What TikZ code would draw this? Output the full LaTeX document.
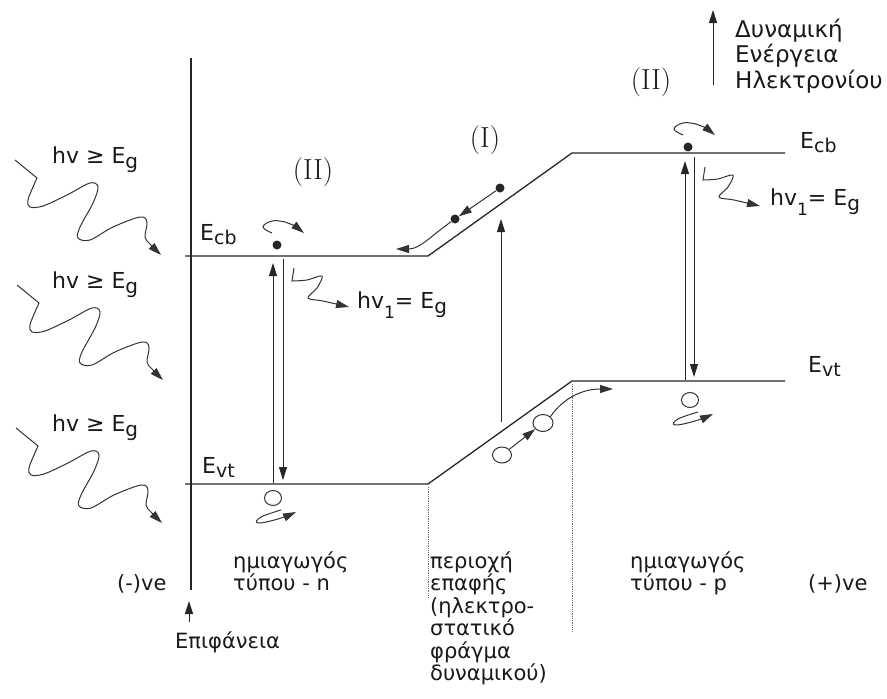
\documentclass[tikz,border=0pt]{standalone}
\usepackage{fontspec}
\newfontfamily\gr{DejaVu Sans}
\usetikzlibrary{arrows.meta,shapes.geometric}
\newcommand\photonpath{%
  \draw[pho] (0,0) -- plot[smooth,tension=0.55] coordinates {(22,18) (18,27) (13,40) (15,47) (28,46) (52,35) (75,23) (83,27) (78,43) (65,67) (63,78) (75,80) (98,67) (125,57) (132,62) (130,77) (135,84) (146,95)};}
\newcommand\emitpath{%
  \draw[pho] (0,0) -- plot[smooth,tension=0.55] coordinates {(-2,13) (13,12) (28,8) (23,20) (14,30) (29,33) (55,39)};}
\newcommand\eloop{%
  \draw[loopa] plot[smooth,tension=0.7] coordinates {(-5,-12) (-14,-18) (-5,-24) (8,-23) (16,-20) (27,-12)};}
\newcommand\hloop{%
  \draw[loopa] plot[smooth,tension=0.7] coordinates {(8,12) (-12,19) (-15,25) (5,21) (23,14)};}
\newcommand\lsub[3]{\raisebox{-#1pt}{\fontsize{#2}{#2}\selectfont #3}}
\tikzset{
  x=1pt, y=-1pt,
  tipA/.tip={Triangle[length=13pt,width=8pt]},
  lvl/.style={line width=1.3pt, black!85},
  arr/.style={line width=1pt, black!85, -tipA},
  pho/.style={line width=1pt, black!80, -tipA},
  loopa/.style={line width=1pt, black!80, -tipA},
  dotl/.style={line width=0.8pt, black!55, densely dotted},
  txt/.style={font=\gr\fontsize{21}{23}\selectfont, inner sep=0pt, anchor=base west, black!90},
  bigt/.style={font=\gr\fontsize{22}{24}\selectfont, inner sep=0pt, anchor=base west, black!90},
  topt/.style={font=\gr\fontsize{23}{25}\selectfont, inner sep=0pt, anchor=base west, black!90},
  roman/.style={font=\fontsize{29}{30}\selectfont, inner sep=0pt, black!90},
  elec/.style={circle, fill=black!85, minimum size=9pt, inner sep=0pt},
  hole/.style={ellipse, draw, line width=1pt, black!80, minimum width=17pt, minimum height=15pt, inner sep=0pt},
}
\begin{document}
\begin{tikzpicture}
\useasboundingbox (0,0) rectangle (887,699);
% band levels
\coordinate (ncbL) at (185,256); \coordinate (ncbR) at (428,256);
\coordinate (pcbL) at (572,153); \coordinate (pcbR) at (785,153);
\coordinate (nvtL) at (185,484); \coordinate (nvtR) at (428,484);
\coordinate (pvtL) at (572,381); \coordinate (pvtR) at (785,381);
\draw[lvl] (ncbL) -- (ncbR) -- (pcbL) -- (pcbR);
\draw[lvl] (nvtL) -- (nvtR) -- (pvtL) -- (pvtR);
% surface
\coordinate (surfT) at (191,58); \coordinate (surfB) at (191,590);
\draw[lvl] (surfT) -- (surfB);
\coordinate (epiB) at (189,622); \coordinate (epiT) at (189,601);
\draw[arr] (epiB) -- (epiT);
% dotted region borders
\coordinate (d1T) at (428,487); \coordinate (d1B) at (428,598);
\coordinate (d2T) at (572,384); \coordinate (d2B) at (572,632);
\draw[dotl] (d1T) -- (d1B);
\draw[dotl] (d2T) -- (d2B);
% energy axis
\coordinate (enB) at (713,85); \coordinate (enT) at (713,10);
\draw[arr] (enB) -- (enT);
\node[topt] (dyn1) at (735,37) {Δυναμική};
\node[topt] (dyn2) at (735,62) {Ενέργεια};
\node[topt] (dyn3) at (735,88) {Ηλεκτρονίου};
% incident photons
\foreach \yy/\xx/\nm in {160/15/hvA, 285/17/hvB, 428/16/hvC}{
  \begin{scope}[shift={(\xx,\yy)}]\photonpath\end{scope}
  \node[bigt] (\nm) at (52,\yy+3) {hv ≥ E\lsub{5}{20}{g}};
}
% level labels
\node[bigt] (ecbN) at (200,240) {E\lsub{4}{19}{cb}};
\node[bigt] (evtN) at (202,473) {E\lsub{4}{19}{vt}};
\node[bigt] (ecbP) at (800,148) {E\lsub{4}{19}{cb}};
\node[bigt] (evtP) at (808,372) {E\lsub{4}{19}{vt}};
% roman labels
\node[roman] (IIn) at (313,172) {(II)};
\node[roman] (Ij) at (485,140) {(I)};
\node[roman] (IIp) at (651,82) {(II)};
% n side
\node[elec] (en) at (277,245) {};
\begin{scope}[shift={(en)}]\eloop\end{scope}
\node[hole] (hn) at (273,498) {};
\begin{scope}[shift={(hn)}]\hloop\end{scope}
\coordinate (nupB) at (273,483); \coordinate (nupT) at (273,263);
\coordinate (ndnT) at (283,259); \coordinate (ndnB) at (283,480);
\draw[arr] (nupB) -- (nupT);
\draw[arr] (ndnT) -- (ndnB);
\coordinate (emN) at (294,268);
\begin{scope}[shift={(emN)}]\emitpath\end{scope}
\node[bigt] (hv1n) at (357,308) {hv\lsub{10}{17}{1}= E\lsub{5}{20}{g}};
% p side
\node[elec] (ep) at (688,147) {};
\begin{scope}[shift={(ep)}]\eloop\end{scope}
\node[hole] (hp) at (690,400) {};
\begin{scope}[shift={(hp)}]\hloop\end{scope}
\coordinate (pupB) at (685,380); \coordinate (pupT) at (685,161);
\coordinate (pdnT) at (694,157); \coordinate (pdnB) at (694,377);
\draw[arr] (pupB) -- (pupT);
\draw[arr] (pdnT) -- (pdnB);
\coordinate (emP) at (705,167);
\begin{scope}[shift={(emP)}]\emitpath\end{scope}
\node[bigt] (hv1p) at (770,205) {hv\lsub{10}{17}{1}= E\lsub{5}{20}{g}};
% junction
\node[elec] (ej1) at (500,188) {};
\node[elec] (ej2) at (455,219) {};
\draw[loopa] (ej1) -- (ej2);
\coordinate (ejEnd) at (396,249);
\draw[loopa] (ej2) to[out=215,in=0] (ejEnd);
\coordinate (jupB) at (501,422); \coordinate (jupT) at (501,219);
\draw[arr] (jupB) -- (jupT);
\node[hole, minimum width=19pt, minimum height=16pt] (hj1) at (502,455) {};
\node[hole, minimum width=20pt, minimum height=17pt] (hj2) at (543,423) {};
\draw[loopa] (hj1) -- (hj2);
\coordinate (hjEnd) at (613,389);
\draw[loopa] (hj2.north east) to[out=55,in=180] (hjEnd);
% bottom texts
\node[txt] (sn1) at (233,568) {ημιαγωγός};
\node[txt] (sn2) at (233,590) {τύπου - n};
\node[txt] (negv) at (117,590) {(-)ve};
\node[txt] (epif) at (175,648) {Επιφάνεια};
\node[txt] (j1) at (430,568) {περιοχή};
\node[txt] (j2) at (430,590) {επαφής};
\node[txt] (j3) at (430,613) {(ηλεκτρο-};
\node[txt] (j4) at (430,635) {στατικό};
\node[txt] (j5) at (430,658) {φράγμα};
\node[txt] (j6) at (430,680) {δυναμικού)};
\node[txt] (sp1) at (630,568) {ημιαγωγός};
\node[txt] (sp2) at (630,590) {τύπου - p};
\node[txt] (posv) at (808,590) {(+)ve};
\end{tikzpicture}
\end{document}
